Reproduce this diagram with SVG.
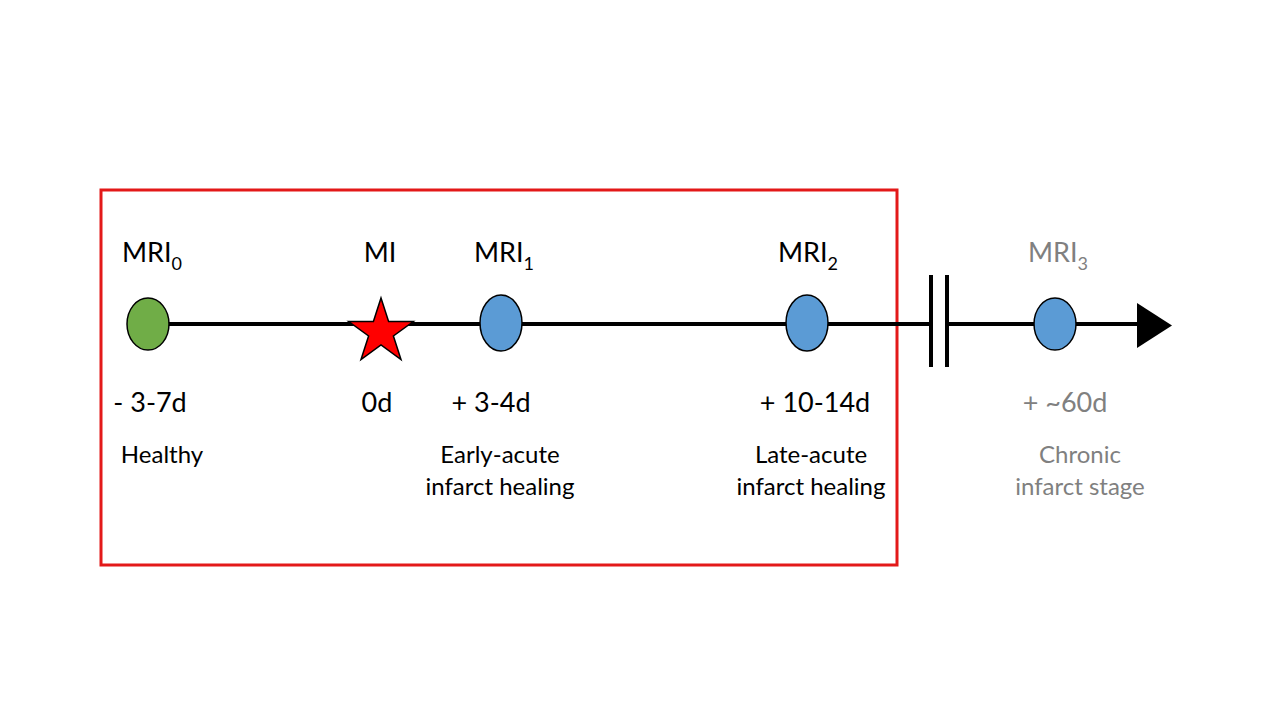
<svg xmlns="http://www.w3.org/2000/svg" width="1280" height="720" viewBox="0 0 1280 720">
<style>
text{font-family:Lato,"Open Sans","Liberation Sans",sans-serif;fill:#000}
.big{font-size:27px}
.sm{font-size:24px}
.sub{font-size:18px}
.gray{fill:#808080}
.dot{stroke:#000;stroke-width:1.5}
.blue{fill:#5b9bd5}
.ln{stroke:#000;stroke-width:4;fill:none}
</style>
<rect width="1280" height="720" fill="#fff"/>
<rect id="frame" x="101" y="190" width="796" height="375" fill="none" stroke="#e31919" stroke-width="3"/>
<g id="connectors">
<line class="ln" x1="148" y1="324" x2="931" y2="324"/>
<line class="ln" x1="947" y1="324" x2="1140" y2="324"/>
<line class="ln" x1="931" y1="275" x2="931" y2="367"/>
<line class="ln" x1="947" y1="275" x2="947" y2="367"/>
<polygon points="1137,303 1172,325.5 1137,348" fill="#000"/>
</g>
<g id="mri0">
<ellipse class="dot" cx="148" cy="324" rx="21" ry="26" fill="#70ad47"/>
<text class="big" x="122" y="262">MRI<tspan class="sub" dy="8">0</tspan></text>
<text class="big" x="150" y="412" text-anchor="middle">- 3-7d</text>
<text class="sm" x="162" y="463" text-anchor="middle">Healthy</text>
</g>
<g id="mi">
<polygon class="dot" fill="#ff0000" points="381,298 388.6,321.5 413.3,321.5 393.4,336 401,359.5 381,345 361,359.5 368.6,336 348.7,321.5 373.4,321.5"/>
<text class="big" x="380" y="262" text-anchor="middle">MI</text>
<text class="big" x="377" y="412" text-anchor="middle">0d</text>
</g>
<g id="mri1">
<ellipse class="dot blue" cx="501" cy="323" rx="21" ry="28"/>
<text class="big" x="474" y="262">MRI<tspan class="sub" dy="8">1</tspan></text>
<text class="big" x="491" y="412" text-anchor="middle">+ 3-4d</text>
<text class="sm" x="500" y="463" text-anchor="middle">Early-acute</text>
<text class="sm" x="500" y="495" text-anchor="middle">infarct healing</text>
</g>
<g id="mri2">
<ellipse class="dot blue" cx="807" cy="323" rx="21" ry="28"/>
<text class="big" x="778" y="262">MRI<tspan class="sub" dy="8">2</tspan></text>
<text class="big" x="815" y="412" text-anchor="middle">+ 10-14d</text>
<text class="sm" x="811" y="463" text-anchor="middle">Late-acute</text>
<text class="sm" x="811" y="495" text-anchor="middle">infarct healing</text>
</g>
<g id="mri3">
<ellipse class="dot blue" cx="1055" cy="324" rx="21" ry="26"/>
<text class="big gray" x="1028" y="262">MRI<tspan class="sub" dy="8">3</tspan></text>
<text class="big gray" x="1065" y="412" text-anchor="middle">+ ~60d</text>
<text class="sm gray" x="1080" y="463" text-anchor="middle">Chronic</text>
<text class="sm gray" x="1080" y="495" text-anchor="middle">infarct stage</text>
</g>
</svg>
